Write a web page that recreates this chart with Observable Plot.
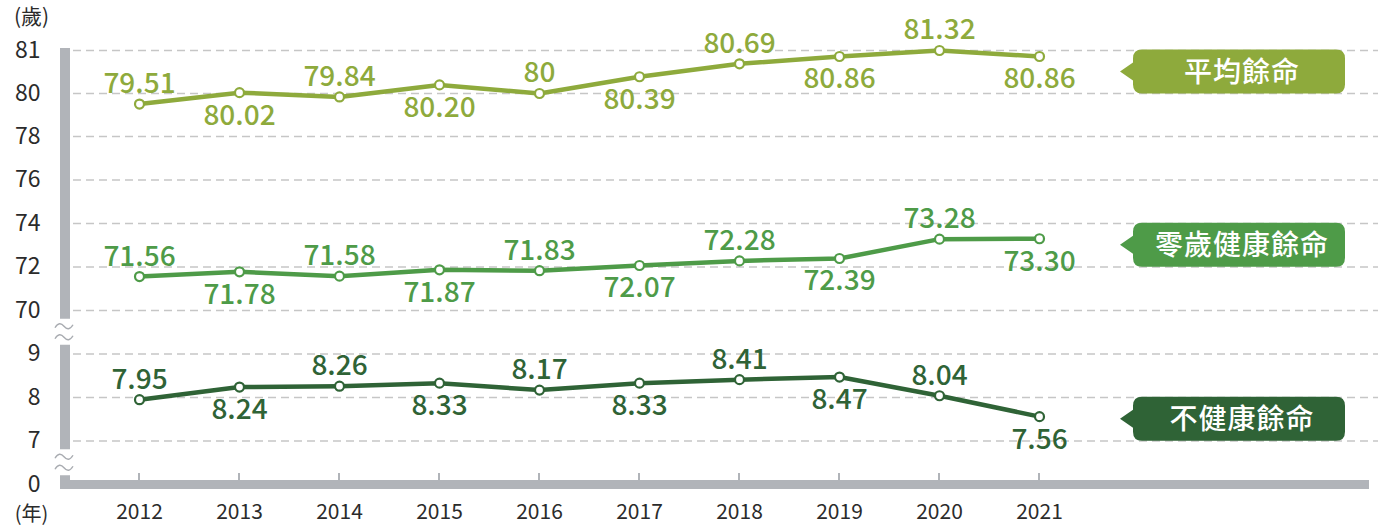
<!DOCTYPE html>
<html><head><meta charset="utf-8">
<script src="https://cdn.jsdelivr.net/npm/d3@7"></script>
<script src="https://cdn.jsdelivr.net/npm/@observablehq/plot@0.6"></script>
<style>
html,body{margin:0;padding:0;background:#fff;}
#chart svg{display:block;}
</style></head><body><div id="chart"></div>
<script>
// ---- data ----
const years = [2012, 2013, 2014, 2015, 2016, 2017, 2018, 2019, 2020, 2021];
const lifeExpectancy = [79.51, 80.02, 79.84, 80.20, 80, 80.39, 80.69, 80.86, 81.32, 80.86];
const healthyLifeExpectancy = [71.56, 71.78, 71.58, 71.87, 71.83, 72.07, 72.28, 72.39, 73.28, 73.30];
const unhealthyYears = [7.95, 8.24, 8.26, 8.33, 8.17, 8.33, 8.41, 8.47, 8.04, 7.56];
const seriesNames = ["平均餘命", "零歲健康餘命", "不健康餘命"];
const seriesColors = ["#8eaa3c", "#4e9b48", "#2f6336"];
const calloutValues = [80.5, 73, 7.5];
const yTicks = [0, 7, 8, 9, 70, 72, 74, 76, 78, 80, 81];
const yUnit = "(歲)";
const xUnit = "(年)";

const seriesValues = [lifeExpectancy, healthyLifeExpectancy, unhealthyYears];
const rows = seriesNames.flatMap((name, s) =>
  years.map((year, i) => ({series: name, year, value: seriesValues[s][i], i})));
const fmt = v => Number.isInteger(v) ? String(v) : v.toFixed(2);

const FONT = "'Noto Sans CJK TC', 'Noto Sans', sans-serif";
const AXIS_GRAY = "#b1b4b9";

function axisChrome(index, scales, values, dimensions) {
  const g = d3.create("svg:g");
  const y = scales.y, x = scales.x;
  const left = dimensions.marginLeft;
  const barW = 10;
  const gap1 = (y(70) + y(9)) / 2;
  const gap2 = (y(7) + y(0)) / 2;
  const half = 13;
  const bottom = y(0) + 5;
  const segs = [[y(81) - 2, gap1 - half], [gap1 + half, gap2 - half], [gap2 + half, bottom]];
  segs.forEach(([a, b]) => g.append("rect").attr("x", left).attr("width", barW)
    .attr("y", a).attr("height", b - a).attr("fill", AXIS_GRAY));
  g.append("rect").attr("x", left).attr("y", y(0) - 4).attr("width", dimensions.width - 9 - left)
    .attr("height", 9).attr("fill", AXIS_GRAY);
  years.forEach(yr => g.append("rect").attr("x", x(yr) - 1).attr("y", y(0) - 11)
    .attr("width", 2).attr("height", 8).attr("fill", AXIS_GRAY));
  [gap1, gap2].forEach(c => [c - 5.5, c + 5.5].forEach(cy => {
    const cx = left + 4;
    g.append("path")
      .attr("d", `M${cx - 9},${cy + 1.5} C${cx - 6},${cy - 3.5} ${cx - 3},${cy - 3.5} ${cx},${cy} C${cx + 3},${cy + 3.5} ${cx + 6},${cy + 3.5} ${cx + 9},${cy - 1.5}`)
      .attr("fill", "none").attr("stroke", "#a9acb1").attr("stroke-width", 1.4);
  }));
  return g.node();
}

function callouts(index, scales, values, dimensions) {
  const g = d3.create("svg:g");
  const right = dimensions.width - 33;
  const boxLeft = right - 212;
  const tipX = boxLeft - 13;
  const h = 44, r = 9, p = 9;
  seriesNames.forEach((name, i) => {
    const cy = scales.y(calloutValues[i]);
    const t = cy - h / 2, b = cy + h / 2;
    const d = `M${boxLeft + r},${t} H${right - r} Q${right},${t} ${right},${t + r} V${b - r} Q${right},${b} ${right - r},${b} H${boxLeft + r} Q${boxLeft},${b} ${boxLeft},${b - r} V${cy + p} L${tipX},${cy} L${boxLeft},${cy - p} V${t + r} Q${boxLeft},${t} ${boxLeft + r},${t} Z`;
    g.append("path").attr("d", d).attr("fill", seriesColors[i]);
    g.append("text").attr("x", (boxLeft + right) / 2 + 3).attr("y", cy).attr("dy", "0.36em")
      .attr("text-anchor", "middle").attr("fill", "white").attr("font-size", 28)
      .attr("font-weight", 500).attr("font-family", FONT).attr("letter-spacing", 1)
      .text(name);
  });
  return g.node();
}

const chart = Plot.plot({
  width: 1378,
  height: 526,
  marginLeft: 60,
  marginRight: 0,
  marginTop: 0,
  marginBottom: 0,
  style: {fontFamily: FONT, background: "#fff"},
  x: {domain: [2012, 2021], range: [139, 1039], axis: null},
  y: {type: "linear", domain: yTicks, range: [484, 440.5, 397, 353.5, 310, 266.5, 223, 179.5, 136, 93, 50], clamp: true, axis: null},
  color: {domain: seriesNames, range: seriesColors},
  marks: [
    Plot.ruleY(yTicks.filter(t => t !== 0), {stroke: "#c6c6c6", strokeWidth: 1.3, strokeDasharray: "8,5"}),
    axisChrome,
    Plot.line(rows, {x: "year", y: "value", z: "series", stroke: "series", strokeWidth: 4.5}),
    Plot.dot(rows, {x: "year", y: "value", r: 4.5, fill: "white", stroke: "series", strokeWidth: 2.2}),
    Plot.text(rows.filter(d => d.i % 2 === 0), {x: "year", y: "value", text: d => fmt(d.value), fill: "series",
      dy: -20, fontSize: 28, fontWeight: 500, lineAnchor: "middle"}),
    Plot.text(rows.filter(d => d.i % 2 === 1), {x: "year", y: "value", text: d => fmt(d.value), fill: "series",
      dy: 23, fontSize: 28, fontWeight: 500, lineAnchor: "middle"}),
    Plot.text(years, {x: d => d, frameAnchor: "bottom", dy: -14, text: d => String(d), fontSize: 21, fill: "#2b2b2b", lineAnchor: "middle"}),
    Plot.text(yTicks, {y: d => d, frameAnchor: "left", dx: -20, textAnchor: "end", text: d => String(d), fontSize: 23, fill: "#2b2b2b", lineAnchor: "middle"}),
    Plot.text([yUnit], {frameAnchor: "top-left", dx: -29, dy: 17, textAnchor: "middle", text: d => d, fontSize: 21, fill: "#2b2b2b", lineAnchor: "middle"}),
    Plot.text([xUnit], {frameAnchor: "bottom-left", dx: -29, dy: -12, textAnchor: "middle", text: d => d, fontSize: 20, fill: "#2b2b2b", lineAnchor: "middle"}),
    callouts
  ]
});
document.getElementById("chart").appendChild(chart);
</script>
</body></html>
